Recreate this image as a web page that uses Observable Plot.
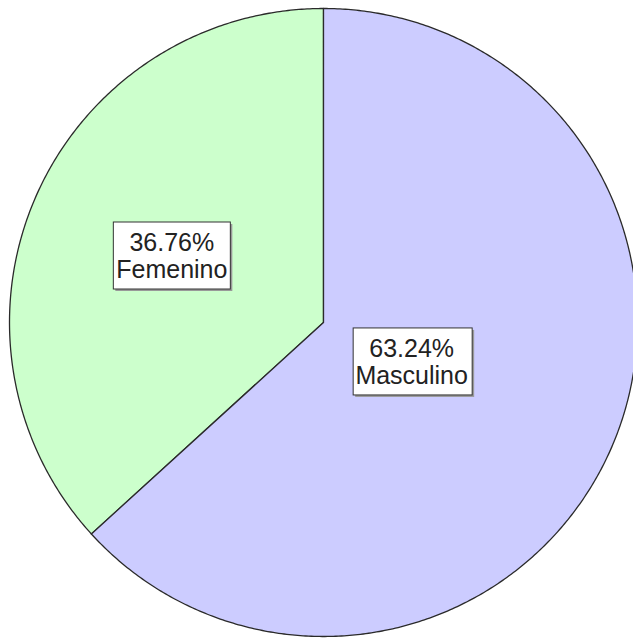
<!DOCTYPE html>
<html>
<head>
<meta charset="utf-8">
<script src="https://cdn.jsdelivr.net/npm/d3@7"></script>
<script src="https://cdn.jsdelivr.net/npm/@observablehq/plot@0.6"></script>
<style>
  html, body { margin: 0; padding: 0; background: #fff; }
</style>
</head>
<body>
<div id="chart"></div>
<script>
// Data
const categories = ["Femenino", "Masculino"];
const percents = [36.76, 63.24];
const colors = ["#ccffcc", "#ccccff"];

// Build slices (counter-clockwise from 12 o'clock)
const slices = [];
let start = 90;
categories.forEach((c, i) => {
  const sweep = percents[i] / 100 * 360;
  const a0 = start, a1 = start + sweep;
  const mid = (a0 + a1) / 2 * Math.PI / 180;
  const alpha = sweep * Math.PI / 180;
  const d = 4 * Math.sin(alpha / 2) / (3 * alpha);
  slices.push({label: c, pct: percents[i], a0, a1, cx: d * Math.cos(mid), cy: d * Math.sin(mid)});
  start = a1;
});

const pts = [];
for (const s of slices) {
  pts.push({label: s.label, x: 0, y: 0});
  const n = Math.ceil((s.a1 - s.a0) * 2);
  for (let k = 0; k <= n; k++) {
    const a = (s.a0 + (s.a1 - s.a0) * k / n) * Math.PI / 180;
    pts.push({label: s.label, x: Math.cos(a), y: Math.sin(a)});
  }
  pts.push({label: s.label, x: 0, y: 0});
}

const W = 633, H = 641, CX = 323, CY = 322, R = 314;

const chart = Plot.plot({
  width: W, height: H,
  margin: 0,
  style: {background: "#fff", overflow: "visible"},
  x: {domain: [(0 - CX) / R, (W - CX) / R], range: [0, W], axis: null},
  y: {domain: [(CY - H) / R, CY / R], range: [H, 0], axis: null},
  color: {domain: categories, range: colors},
  marks: [
    Plot.line(pts, {x: "x", y: "y", z: "label", fill: "label", stroke: "#2a2a2a", strokeWidth: 1.3, curve: "linear"}),
    Plot.text(slices, {
      x: "cx", y: "cy",
      text: d => d.pct.toFixed(2) + "%\n" + d.label,
      fontSize: 25, lineHeight: 1.08,
      fontFamily: "Liberation Sans, Arial, sans-serif",
      fill: "#222",
      className: "lbl"
    })
  ]
});
document.getElementById("chart").appendChild(chart);

// label boxes with shadow behind texts
const ns = "http://www.w3.org/2000/svg";
chart.querySelectorAll("text").forEach(t => {
  const g = t.parentNode;
  const b = t.getBBox();
  const tr = t.getAttribute("transform") || "";
  const padX = 3, padY = 6;
  const x = Math.round(b.x - padX) + 0.5, y = Math.round(b.y - padY) + 0.5;
  const w = Math.round(b.width + 2 * padX), h = Math.round(b.height + 2 * padY);
  const sh = document.createElementNS(ns, "rect");
  sh.setAttribute("x", x + 2); sh.setAttribute("y", y + 2);
  sh.setAttribute("width", w); sh.setAttribute("height", h);
  sh.setAttribute("fill", "#999");
  sh.setAttribute("transform", tr);
  const r = document.createElementNS(ns, "rect");
  r.setAttribute("x", x); r.setAttribute("y", y);
  r.setAttribute("width", w); r.setAttribute("height", h);
  r.setAttribute("fill", "#fff"); r.setAttribute("stroke", "#333");
  r.setAttribute("transform", tr);
  g.insertBefore(sh, t);
  g.insertBefore(r, t);
});
</script>
</body>
</html>
